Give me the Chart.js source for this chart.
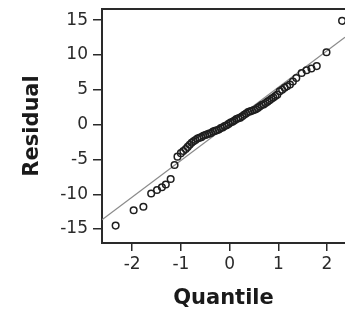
<!DOCTYPE html>
<html>
<head>
<meta charset="utf-8">
<script src="https://cdn.jsdelivr.net/npm/chart.js@4.4.1/dist/chart.umd.min.js"></script>
<style>
html,body{margin:0;padding:0;background:#fff;overflow:hidden;}
#wrap{width:345px;height:311px;}
</style>
</head>
<body>
<div id="wrap"><canvas id="c" width="345" height="311"></canvas></div>
<script>
// Theoretical quantiles (x) and residuals (y)
const quantiles = [
  -2.34, -1.97, -1.77, -1.61, -1.49, -1.39, -1.31, -1.21, -1.13, -1.07,
  -1.00, -0.95, -0.90, -0.86, -0.82, -0.78, -0.74, -0.70, -0.66, -0.62,
  -0.58, -0.54, -0.50, -0.46, -0.42, -0.38, -0.34, -0.30, -0.26, -0.22,
  -0.18, -0.14, -0.10, -0.06, -0.02, 0.02, 0.06, 0.10, 0.14, 0.18,
  0.22, 0.26, 0.30, 0.34, 0.38, 0.42, 0.46, 0.50, 0.54, 0.58,
  0.62, 0.66, 0.70, 0.74, 0.78, 0.82, 0.86, 0.90, 0.94, 0.98,
  1.03, 1.08, 1.13, 1.18, 1.24, 1.30, 1.37, 1.48, 1.58, 1.68,
  1.79, 1.99, 2.31
];
const residuals = [
  -14.5, -12.3, -11.8, -9.9, -9.4, -9.0, -8.6, -7.8, -5.8, -4.6,
  -4.1, -3.8, -3.5, -3.2, -2.9, -2.6, -2.4, -2.2, -2.0, -1.9,
  -1.8, -1.6, -1.5, -1.4, -1.3, -1.2, -1.0, -0.9, -0.8, -0.7,
  -0.5, -0.4, -0.2, -0.1, 0.1, 0.3, 0.4, 0.6, 0.8, 0.9,
  1.0, 1.2, 1.4, 1.6, 1.8, 1.9, 2.0, 2.1, 2.2, 2.4,
  2.6, 2.8, 2.9, 3.1, 3.3, 3.5, 3.7, 3.9, 4.1, 4.3,
  4.8, 5.0, 5.3, 5.5, 5.75, 6.2, 6.7, 7.4, 7.8, 8.06,
  8.4, 10.4, 14.9
];
// Reference line end points
const refLineX = [-2.62, 2.37];
const refLineY = [-13.65, 12.55];
// Tick labels
const xTicks = [-2, -1, 0, 1, 2];
const yTicks = [-15, -10, -5, 0, 5, 10, 15];
const xTitle = 'Quantile';
const yTitle = 'Residual';

const pts = quantiles.map((q, i) => ({x: q, y: residuals[i]}));
const linePts = refLineX.map((x, i) => ({x: x, y: refLineY[i]}));

const frame = {
  id: 'frame',
  afterDatasetsDraw(chart) {
    const {ctx, chartArea: a} = chart;
    ctx.save();
    ctx.strokeStyle = '#2a2a2a';
    ctx.lineWidth = 2;
    ctx.beginPath();
    ctx.moveTo(a.left - 1, a.top);
    ctx.lineTo(a.right + 5, a.top);
    ctx.stroke();
    ctx.restore();
  }
};

const tickFont = {family: '"DejaVu Sans", sans-serif', size: 17};
const titleFont = {family: '"DejaVu Sans", sans-serif', size: 21, weight: 'bold'};

new Chart(document.getElementById('c'), {
  type: 'scatter',
  data: {
    datasets: [
      {
        type: 'line',
        data: linePts,
        borderColor: '#8a8a8a',
        borderWidth: 1.2,
        pointRadius: 0,
        fill: false,
        order: 2
      },
      {
        data: pts,
        pointRadius: 3.3,
        pointBorderWidth: 1.5,
        pointBorderColor: '#1e1e1e',
        pointBackgroundColor: 'rgba(0,0,0,0)',
        order: 1
      }
    ]
  },
  options: {
    responsive: false,
    animation: false,
    devicePixelRatio: 1,
    layout: {autoPadding: false, padding: {top: 9, right: 0, bottom: 0, left: 0}},
    plugins: {legend: {display: false}, tooltip: {enabled: false}},
    scales: {
      x: {
        type: 'linear',
        min: refLineX[0],
        max: refLineX[1],
        afterBuildTicks: s => { s.ticks = xTicks.map(v => ({value: v})); },
        afterFit: s => { s.height = 68; s.paddingLeft = 0; s.paddingRight = 0; },
        ticks: {font: tickFont, color: '#2a2a2a', padding: 3, maxRotation: 0, callback: v => String(v)},
        grid: {drawOnChartArea: false, drawTicks: true, tickLength: 8, color: '#2a2a2a', lineWidth: 1.5},
        border: {display: true, color: '#2a2a2a', width: 2},
        title: {display: true, text: xTitle, font: titleFont, color: '#1a1a1a', padding: {top: 0, bottom: 0}}
      },
      y: {
        type: 'linear',
        min: -17,
        max: 16.6,
        afterBuildTicks: s => { s.ticks = yTicks.map(v => ({value: v})); },
        afterFit: s => { s.width = 102; s.paddingTop = 0; s.paddingBottom = 0; },
        ticks: {font: tickFont, color: '#2a2a2a', padding: 5, callback: v => String(v)},
        grid: {drawOnChartArea: false, drawTicks: true, tickLength: 9, color: '#2a2a2a', lineWidth: 1.5},
        border: {display: true, color: '#2a2a2a', width: 2},
        title: {display: true, text: yTitle, font: titleFont, color: '#1a1a1a', padding: {top: 20, bottom: 0}}
      }
    }
  },
  plugins: [frame]
});
</script>
</body>
</html>
